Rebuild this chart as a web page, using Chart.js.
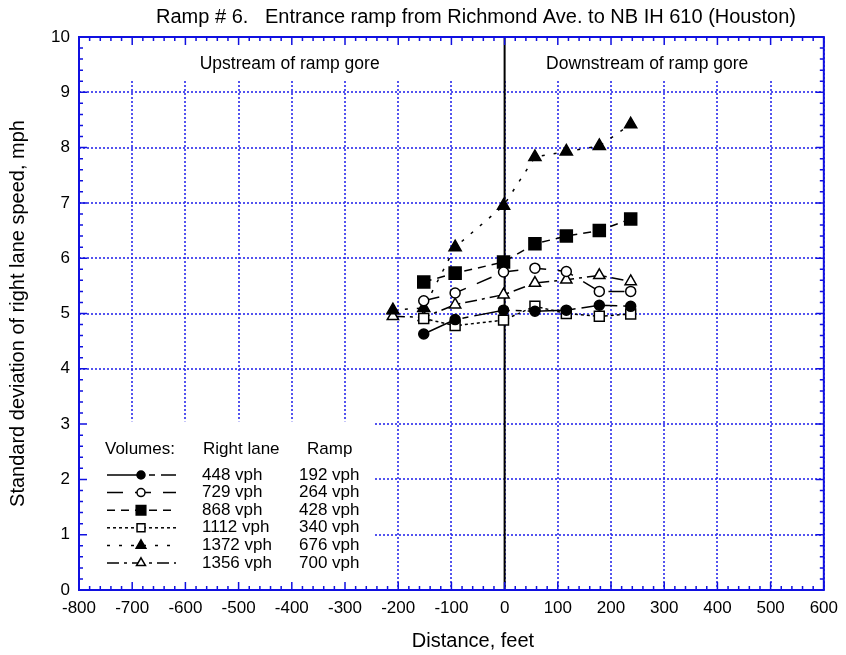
<!DOCTYPE html>
<html>
<head>
<meta charset="utf-8">
<script src="https://cdn.jsdelivr.net/npm/chart.js@4/dist/chart.umd.min.js"></script>
<style>
html, body { margin: 0; padding: 0; background: #fff; }
</style>
</head>
<body>
<canvas id="rampChart" width="846" height="655"></canvas>
<script>
// distances from the ramp gore, feet
const distFt = [-210, -152, -93, -2, 57, 116, 178, 237];

// std. deviation of right lane speed (mph) per volume case, null = not measured
const sd448  = [null, 4.63, 4.89, 5.06, 5.04, 5.06, 5.15, 5.13];
const sd729  = [null, 5.23, 5.37, 5.75, 5.82, 5.76, 5.40, 5.40];
const sd868  = [null, 5.57, 5.73, 5.93, 6.26, 6.40, 6.50, 6.71];
const sd1112 = [null, 4.91, 4.78, 4.88, 5.13, 5.00, 4.95, 4.99];
const sd1372 = [5.06, 5.10, 6.20, 6.95, 7.83, 7.93, 8.03, 8.42];
const sd1356 = [4.95, 4.93, 5.16, 5.34, 5.55, 5.61, 5.69, 5.58];

const rightLaneVol = ["448 vph", "729 vph", "868 vph", "1112 vph", "1372 vph", "1356 vph"];
const rampVol      = ["192 vph", "264 vph", "428 vph", "340 vph", "676 vph", "700 vph"];

const FONT = "'Liberation Sans', Arial, sans-serif";
const BLUE = "#1010e0";

function toPoints(ys) {
  const out = [];
  ys.forEach((v, i) => { if (v !== null) out.push({ x: distFt[i], y: v }); });
  return out;
}

function mkSet(label, ys, style, filled, radius, dash) {
  return {
    label: label,
    data: toPoints(ys),
    showLine: true,
    borderColor: "#000",
    borderWidth: 1.5,
    borderDash: dash,
    pointStyle: style,
    pointRadius: radius,
    pointHoverRadius: radius,
    pointBackgroundColor: filled ? "#000" : "#fff",
    pointBorderColor: "#000",
    pointBorderWidth: 1.5
  };
}

const datasets = [
  mkSet(rightLaneVol[0], sd448,  "circle",   true,  5,   [36, 6, 6, 6]),
  mkSet(rightLaneVol[1], sd729,  "circle",   false, 5,   [16, 12]),
  mkSet(rightLaneVol[2], sd868,  "rect",     true,  8.5, [8, 6]),
  mkSet(rightLaneVol[3], sd1112, "rect",     false, 7,   [3, 3]),
  mkSet(rightLaneVol[4], sd1372, "triangle", true,  7,   [3, 9]),
  mkSet(rightLaneVol[5], sd1356, "triangle", false, 6.5, [12, 5, 3, 5])
];

// white label areas, zero line, legend table
const decor = {
  id: "decor",
  beforeDatasetsDraw(chart) {
    const { ctx, chartArea: a, scales: { x, y } } = chart;
    ctx.save();
    ctx.fillStyle = "#fff";
    const bandBottom = y.getPixelForValue(9.24);
    ctx.fillRect(a.left, a.top, a.right - a.left, bandBottom - a.top);
    const lgRight = x.getPixelForValue(-245);
    const lgTop = y.getPixelForValue(3.05);
    ctx.fillRect(a.left, lgTop, lgRight - a.left, a.bottom - lgTop);

    // zero line (ramp gore)
    const x0 = x.getPixelForValue(0);
    ctx.strokeStyle = "#000";
    ctx.lineWidth = 2;
    ctx.beginPath();
    ctx.moveTo(x0, a.top);
    ctx.lineTo(x0, a.bottom);
    ctx.stroke();

    ctx.fillStyle = "#000";
    ctx.font = "17.5px " + FONT;
    ctx.textAlign = "center";
    ctx.textBaseline = "middle";
    ctx.fillText("Upstream of ramp gore", x.getPixelForValue(-404), y.getPixelForValue(9.5));
    ctx.fillText("Downstream of ramp gore", x.getPixelForValue(268), y.getPixelForValue(9.5));

    // legend table
    ctx.font = "17px " + FONT;
    ctx.textAlign = "left";
    ctx.fillText("Volumes:", 105, 449);
    ctx.fillText("Right lane", 203, 449);
    ctx.fillText("Ramp", 307, 449);
    datasets.forEach((ds, i) => {
      const ry = 475 + i * 17.6;
      ctx.save();
      ctx.strokeStyle = "#000";
      ctx.lineWidth = 1.5;
      ctx.setLineDash(ds.borderDash);
      ctx.beginPath();
      ctx.moveTo(107, ry);
      ctx.lineTo(176, ry);
      ctx.stroke();
      ctx.setLineDash([]);
      ctx.fillStyle = ds.pointBackgroundColor;
      ctx.strokeStyle = "#000";
      Chart.helpers.drawPoint(ctx, {
        pointStyle: ds.pointStyle,
        radius: ds.pointRadius * 0.8,
        rotation: 0,
        borderWidth: 1.5
      }, 141, ry);
      ctx.restore();
      ctx.fillStyle = "#000";
      ctx.fillText(rightLaneVol[i], 202, ry);
      ctx.fillText(rampVol[i], 299, ry);
    });
    ctx.restore();
  },
  afterDraw(chart) {
    const { ctx, chartArea: a, scales: { x, y } } = chart;
    ctx.save();
    // frame
    ctx.strokeStyle = BLUE;
    ctx.lineWidth = 2;
    ctx.strokeRect(a.left, a.top, a.right - a.left, a.bottom - a.top);
    // inward ticks on all sides
    ctx.lineWidth = 1.5;
    ctx.beginPath();
    for (let i = 0; i <= 70; i++) {
      const px = x.getPixelForValue(-800 + i * 20);
      const len = i % 5 === 0 ? 8 : 4;
      ctx.moveTo(px, a.bottom); ctx.lineTo(px, a.bottom - len);
      ctx.moveTo(px, a.top); ctx.lineTo(px, a.top + len);
    }
    for (let i = 0; i <= 50; i++) {
      const py = y.getPixelForValue(i * 0.2);
      const len = i % 5 === 0 ? 8 : 4;
      ctx.moveTo(a.left, py); ctx.lineTo(a.left + len, py);
      ctx.moveTo(a.right, py); ctx.lineTo(a.right - len, py);
    }
    ctx.stroke();
    // chart title and x axis title
    ctx.fillStyle = "#000";
    ctx.font = "20px " + FONT;
    ctx.textAlign = "center";
    ctx.textBaseline = "middle";
    ctx.fillText("Ramp # 6.   Entrance ramp from Richmond Ave. to NB IH 610 (Houston)", 476, 17);
    ctx.fillText("Distance, feet", 473, 641);
    ctx.restore();
  }
};

const gridOpts = { color: "rgba(40,40,235,0.8)", lineWidth: 2, drawTicks: false };
const tickFont = { family: FONT, size: 17 };

new Chart(document.getElementById("rampChart"), {
  type: "scatter",
  data: { datasets: datasets },
  options: {
    responsive: false,
    animation: false,
    devicePixelRatio: 1,
    layout: { padding: { top: 37, right: 21, left: 0, bottom: 0 } },
    plugins: {
      legend: { display: false },
      tooltip: { enabled: false },
      title: { display: false }
    },
    scales: {
      x: {
        type: "linear",
        min: -800,
        max: 600,
        ticks: { stepSize: 100, font: tickFont, color: "#000", padding: 8 },
        grid: gridOpts,
        border: { display: false, dash: [2, 2] },
        afterFit(s) { s.height = 65; }
      },
      y: {
        type: "linear",
        min: 0,
        max: 10,
        ticks: { stepSize: 1, font: tickFont, color: "#000", padding: 9 },
        grid: gridOpts,
        border: { display: false, dash: [2, 2] },
        title: { display: true, text: "Standard deviation of right lane speed, mph", color: "#000", font: { family: FONT, size: 20 }, padding: { top: 6, bottom: 0 } },
        afterFit(s) { s.width = 79; }
      }
    }
  },
  plugins: [decor]
});
</script>
</body>
</html>
